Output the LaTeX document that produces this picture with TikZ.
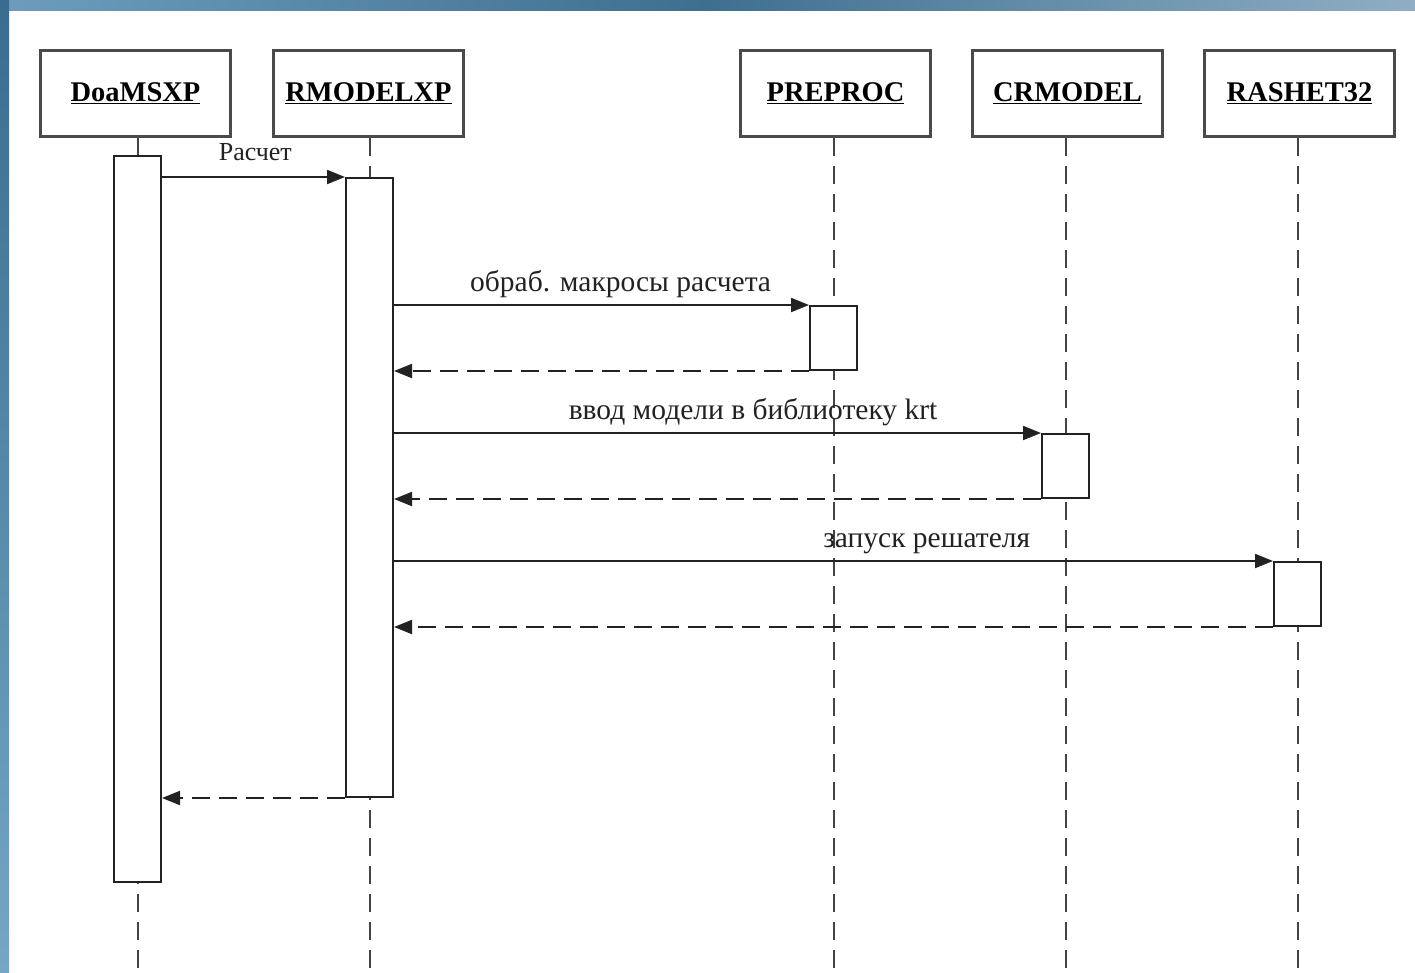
\documentclass[tikz,border=0pt]{standalone}
\usepackage{fontspec}
\setmainfont{Liberation Serif}
\usetikzlibrary{arrows.meta}
\definecolor{bandmid}{HTML}{3F6F8F}
\definecolor{bandlight}{HTML}{6E9CBC}
\definecolor{bandend}{HTML}{8FAEC4}
\definecolor{bandtop}{HTML}{3A6C90}
\definecolor{bandbot}{HTML}{76A6C4}
\definecolor{ink}{HTML}{222222}
\definecolor{boxline}{HTML}{4A4A4A}
\begin{document}
\begin{tikzpicture}[x=1pt,y=-1pt,
  header/.style={draw=boxline,line width=2.4pt,minimum width=190pt,minimum height=86pt,
    inner sep=0pt,font=\fontsize{28.5}{30}\selectfont\bfseries},
  act/.style={draw=ink,line width=2pt,fill=white,minimum width=47pt,inner sep=0pt},
  life/.style={draw=ink!85,line width=2pt,dash pattern=on 18pt off 10pt},
  msg/.style={draw=ink,line width=2pt,-{Triangle[length=18pt,width=14pt]}},
  reply/.style={msg,dash pattern=on 18pt off 9pt},
  lbl/.style={font=\fontsize{29.5}{31}\selectfont,text=ink,inner sep=0pt},
  smalllbl/.style={font=\fontsize{26}{28}\selectfont,text=ink,inner sep=0pt}]
  \useasboundingbox (0,0) rectangle (1415,972);
  % frame bands
  \fill[white] (0,0) rectangle (1415,972);
  \shade[left color=bandlight,right color=bandend,middle color=bandmid] (0,0) rectangle (1415,10);
  \shade[top color=bandtop,bottom color=bandbot] (0,0) rectangle (9,972);

  % object headers
  \node[header] (h1) at (135.5,93.5) {\underline{DoaMSXP}};
  \node[header] (h2) at (368.5,93.5) {\underline{RMODELXP}};
  \node[header] (h3) at (835.5,93.5) {\underline{PREPROC}};
  \node[header] (h4) at (1067.5,93.5) {\underline{CRMODEL}};
  \node[header] (h5) at (1299.5,93.5) {\underline{RASHET32}};

  % lifelines
  \foreach \n/\x in {h1/138,h2/370,h3/834,h4/1066,h5/1298}
    \draw[life] (\x,138) -- (\x,972);

  % activation bars
  \node[act,minimum height=726pt] (a1) at (137.5,519) {};
  \node[act,minimum height=619pt] (a2) at (369.5,487.5) {};
  \node[act,minimum height=64pt] (a3) at (833.5,338) {};
  \node[act,minimum height=64pt] (a4) at (1065.5,466) {};
  \node[act,minimum height=64pt] (a5) at (1297.5,594) {};

  % messages
  \draw[msg] (a1.east |- a2.north) -- (a2.north west)
    node[smalllbl,pos=0.51,above=15pt] {Расчет};
  \draw[msg] (a2.east |- a3.north) -- (a3.north west)
    node[lbl,pos=0.546,above=6pt] {обраб. макросы расчета};
  \draw[reply] (a3.south west) -- (a2.east |- a3.south);
  \draw[msg] (a2.east |- a4.north) -- (a4.north west)
    node[lbl,pos=0.555,above=6pt] {ввод модели в библиотеку krt};
  \draw[reply] (a4.south west) -- (a2.east |- a4.south);
  \draw[msg] (a2.east |- a5.north) -- (a5.north west)
    node[lbl,pos=0.606,above=6pt] {запуск решателя};
  \draw[reply] (a5.south west) -- (a2.east |- a5.south);
  \draw[reply] (a2.south west) -- (a1.east |- a2.south);
\end{tikzpicture}
\end{document}
